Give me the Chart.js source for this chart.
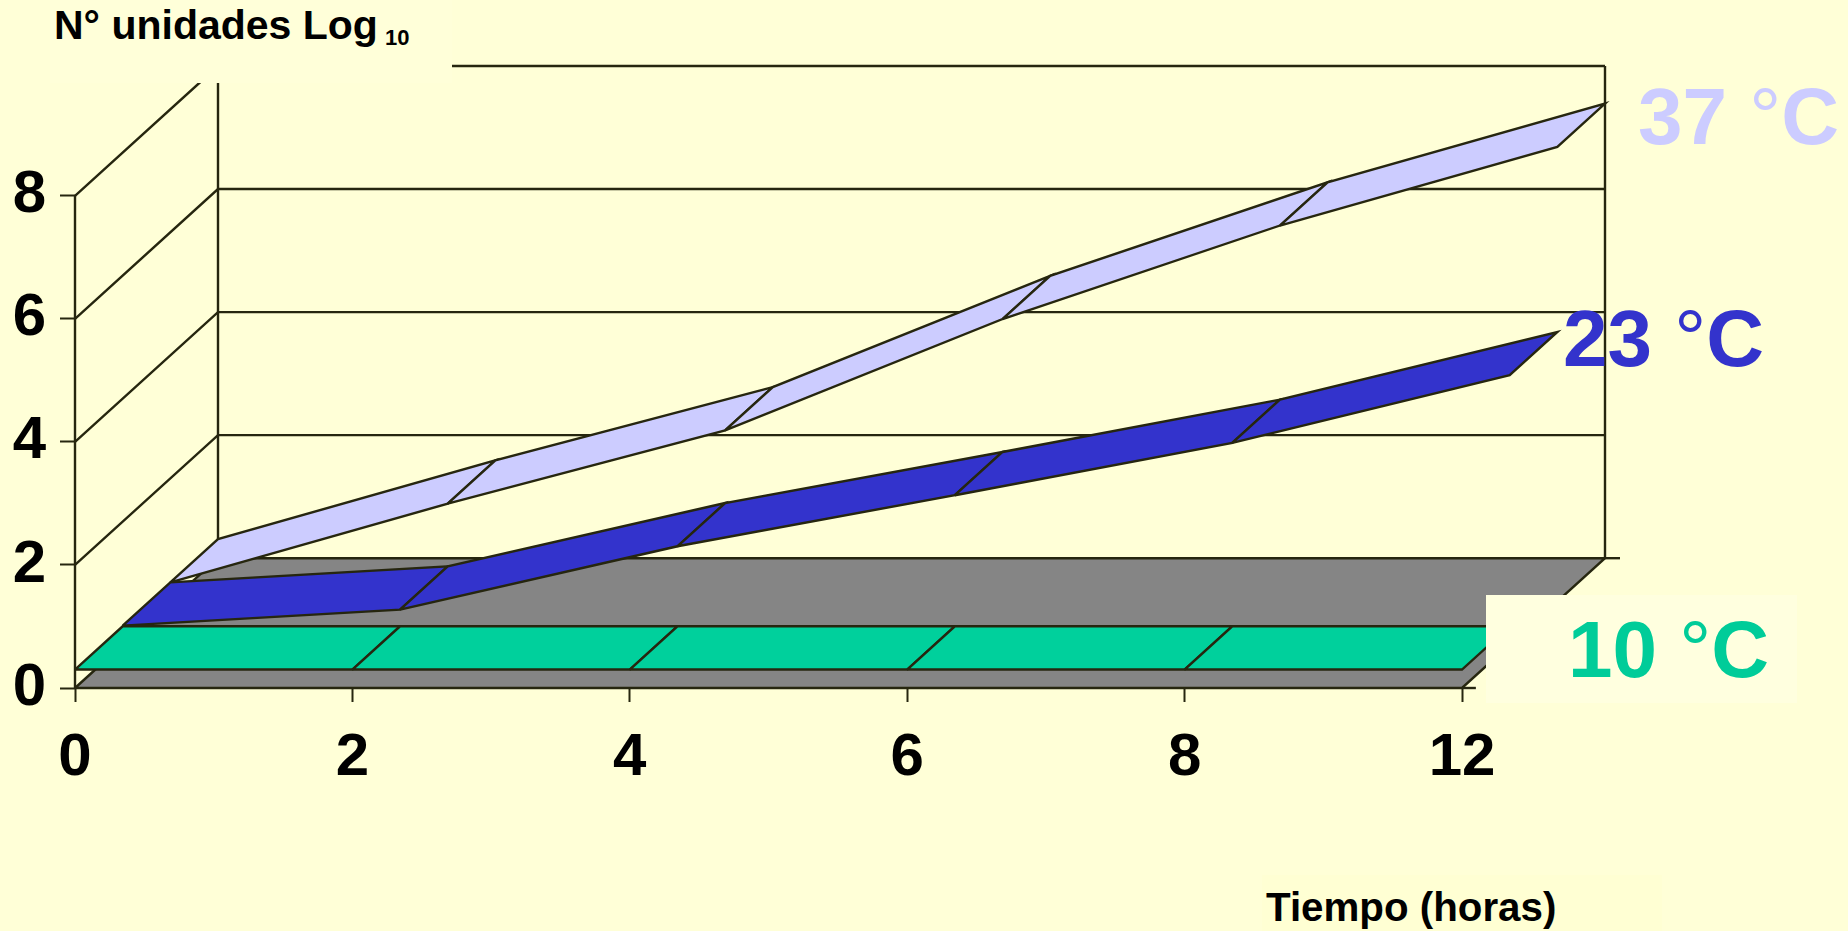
<!DOCTYPE html>
<html lang="en">
<head>
  <meta charset="UTF-8">
  <title>N° unidades Log 10</title>
  <style>
    html, body { margin: 0; padding: 0; background: #FFFFD7; overflow: hidden; }
    #wrap { position: relative; width: 1848px; height: 931px; overflow: hidden; font-family: "Liberation Sans", Arial, sans-serif; font-weight: bold; }
    canvas { position: absolute; left: 0; top: 0; }
    .box { position: absolute; background: #FFFFDF; }
    .note { position: absolute; white-space: nowrap; line-height: 1.149; color: #000; }
    .big { font-size: 80px; }
    .big span { font-weight: normal; }
  </style>
</head>
<body>
<div id="wrap">
  <canvas id="growthChart" width="1848" height="931"></canvas>
  <div class="box" style="left:50px; top:0; width:402px; height:83px; background:#FFFFD9;"></div>
  <div class="box" style="left:1486px; top:595px; width:311px; height:108px;"></div>
  <div class="box" style="left:1262px; top:875px; width:400px; height:56px; background:#FFFFD3;"></div>
  <div class="note" style="left:54px; top:2px; font-size:41px;">N° unidades Log</div>
  <div class="note" style="left:385px; top:25px; font-size:22px;">10</div>
  <div class="note big" style="left:1638px; top:71px; color:#CCCCFF;">37 <span>°</span>C</div>
  <div class="note big" style="left:1563px; top:293px; color:#3333CC;">23 <span>°</span>C</div>
  <div class="note big" style="left:1568px; top:604px; color:#00CC99;">10 <span>°</span>C</div>
  <div class="note" style="left:1266px; top:885px; font-size:40.3px;">Tiempo (horas)</div>
</div>

<script src="https://cdn.jsdelivr.net/npm/chart.js"></script>
<script>
  const hours = ['0', '2', '4', '6', '8', '12'];
  const logTicks = [0, 2, 4, 6, 8];
  const temp10 = [0.3, 0.3, 0.3, 0.3, 0.3, 0.3];
  const temp23 = [0.31, 0.57, 1.6, 2.43, 3.28, 4.38];
  const temp37 = [0.31, 1.59, 2.78, 4.59, 6.11, 7.39];

  // the fake 3D depth, written in axis units
  const depthX = 0.5155;
  const depthY = 2.11;
  const lastX = hours.length - 1;
  const topY = logTicks[logTicks.length - 1];

  const inkColor = '#26260F';
  const project = (x, y, d) => ({ x: x + d * depthX, y: y + d * depthY });

  function lineSet(data) {
    return { data, showLine: true, fill: false, borderColor: inkColor, borderWidth: 2.4, pointRadius: 0, clip: false };
  }

  function shapeSet(data, color) {
    return { data, showLine: true, fill: 'shape', backgroundColor: color, borderColor: inkColor, borderWidth: 2.4, pointRadius: 0, clip: false };
  }

  // one closed piece of ribbon for every interval of a series
  function ribbon(values, slot, color) {
    const d0 = slot / 3, d1 = (slot + 1) / 3;
    const out = [];
    for (let i = 0; i < values.length - 1; i++) {
      out.push(shapeSet([
        project(i, values[i], d0),
        project(i + 1, values[i + 1], d0),
        project(i + 1, values[i + 1], d1),
        project(i, values[i], d1),
        project(i, values[i], d0)
      ], color));
    }
    return out;
  }

  const backToFront = [];

  // walls
  logTicks.slice(1).forEach(v => {
    backToFront.push(lineSet([project(0, v, 0), project(0, v, 1), project(lastX, v, 1)]));
  });
  backToFront.push(lineSet([project(0, 0, 0), project(0, topY, 0)]));
  backToFront.push(lineSet([project(0, 0, 1), project(0, topY, 1)]));
  backToFront.push(lineSet([project(lastX, 0, 1), project(lastX, topY, 1)]));

  // floor
  backToFront.push(shapeSet([
    project(0, 0, 0), project(lastX, 0, 0), project(lastX, 0, 1), project(0, 0, 1), project(0, 0, 0)
  ], '#858585'));
  backToFront.push(lineSet([project(lastX, 0, 1), { x: lastX + depthX + 0.054, y: depthY }]));
  backToFront.push(lineSet([project(lastX, 0, 0), { x: lastX + 0.05, y: 0 }]));

  backToFront.push(...ribbon(temp37, 2, '#CCCCFF'));
  backToFront.push(...ribbon(temp23, 1, '#3333CC'));
  backToFront.push(...ribbon(temp10, 0, '#00D09C'));

  new Chart(document.getElementById('growthChart'), {
    type: 'scatter',
    data: { datasets: backToFront.reverse() },
    options: {
      responsive: false,
      animation: false,
      events: [],
      layout: { padding: { left: 0, top: 66, right: 243, bottom: 0 } },
      plugins: { legend: { display: false }, tooltip: { enabled: false } },
      scales: {
        x: {
          type: 'linear',
          min: 0,
          max: lastX + depthX,
          afterFit: s => { s.height = 243; },
          border: { display: false },
          grid: { drawOnChartArea: false, tickLength: 14, tickWidth: 2, tickColor: inkColor },
          ticks: {
            stepSize: 1,
            includeBounds: false,
            autoSkip: false,
            maxRotation: 0,
            padding: 20,
            color: '#000',
            font: { family: '"Liberation Sans", Arial', size: 60, weight: 'bold' },
            callback: v => hours[v]
          }
        },
        y: {
          min: 0,
          max: topY + depthY,
          afterFit: s => { s.width = 75; },
          afterBuildTicks: s => { s.ticks = s.ticks.filter(t => t.value <= topY); },
          border: { display: false },
          grid: { drawOnChartArea: false, tickLength: 15, tickWidth: 2, tickColor: inkColor },
          ticks: {
            stepSize: 2,
            includeBounds: false,
            padding: 14,
            color: '#000',
            font: { family: '"Liberation Sans", Arial', size: 60, weight: 'bold' }
          }
        }
      }
    }
  });
</script>
</body>
</html>
